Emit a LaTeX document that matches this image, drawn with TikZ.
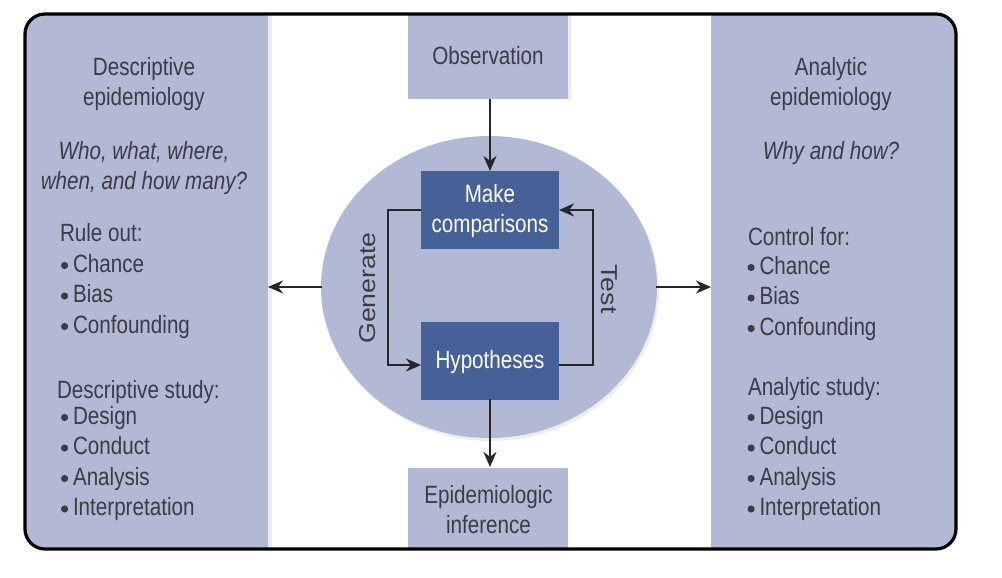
\documentclass[tikz,border=0pt]{standalone}
\usepackage{fontspec}
\setmainfont{Liberation Sans}[FakeStretch=0.825]
\newfontfamily\widefam{Liberation Sans}[FakeStretch=1.16]
\usetikzlibrary{arrows.meta,shapes.geometric}
\definecolor{pale}{HTML}{B1B9D5}
\definecolor{deep}{HTML}{466098}
\definecolor{ink}{HTML}{3C3C42}
\definecolor{softgrey}{HTML}{EDEDF0}
\tikzset{
  every node/.style={inner sep=0pt,outer sep=0pt},
  panel/.style={fill=pale,draw=none,minimum width=#1,rectangle},
  dark/.style={fill=deep,text=white,minimum width=138pt,minimum height=78pt,font=\fontsize{25}{30}\selectfont,align=center},
  txt/.style={text=ink,font=\fontsize{25}{30.5}\selectfont,align=left,anchor=north west},
  ctr/.style={text=ink,font=\fontsize{25}{30}\selectfont,align=center},
  side/.style={text=ink,font=\fontsize{23}{30}\widefam},
  conn/.style={draw=black!85,line width=2.2pt,-{Stealth[length=15pt,width=13pt]}},
}
\newcommand{\bul}{\makebox[12pt][l]{\raisebox{3pt}{\tikz\fill[ink] (0,0) circle (3.6pt);}}}
\begin{document}
\begin{tikzpicture}[x=1pt,y=-1pt]
\useasboundingbox (0,0) rectangle (1002,578);
\begin{scope}
\clip[rounded corners=20pt] (25,14) rectangle (956,549);
\fill[softgrey] (268,14) rectangle (272,549);
\fill[softgrey] (568,14) rectangle (571,101);
\node[panel=242pt,minimum height=535pt,anchor=north west] (left) at (26,14) {};
\node[panel=245pt,minimum height=535pt,anchor=north west] (right) at (711,14) {};
\node[panel=160pt,minimum height=85pt,anchor=north west] (obs) at (408,14) {};
\node[panel=160pt,minimum height=81pt,anchor=north west] (inf) at (408,468) {};
\end{scope}
\fill[softgrey] (491,290) ellipse [x radius=168pt,y radius=151pt];
\node[ellipse,fill=pale,minimum width=336pt,minimum height=302pt] (circ) at (489,287) {};
\node[ctr] (obst) at (488,56) {Observation};
\node[ctr] (inft) at (488.5,510) {Epidemiologic\\inference};
\node[dark] (make) at (490,210) {};
\node[dark] (hyp) at (490,360.5) {};
\node[dark,fill=none,minimum width=0pt,minimum height=0pt] (maket) at (490,211.5) {Make\\comparisons};
\node[dark,fill=none,minimum width=0pt,minimum height=0pt] (hypt) at (490,362) {Hypotheses};
\coordinate (mkw) at (421,210);
\coordinate (mke) at (559,210);
\coordinate (hyw) at (421,365);
\coordinate (hye) at (559,365);
\coordinate (gl) at (388,210);
\coordinate (gb) at (388,365);
\coordinate (tb) at (593,365);
\coordinate (tt) at (593,210);
\coordinate (cl) at (322,287);
\coordinate (cr) at (656,287);
\coordinate (ll) at (268,287);
\coordinate (rr) at (711,287);
\coordinate (ot) at (490,99);
\coordinate (mt) at (490,171);
\coordinate (hb) at (490,399);
\coordinate (it) at (490,467);
\draw[conn] (ot) -- (mt);
\draw[conn] (hb) -- (it);
\draw[conn] (cl) -- (ll);
\draw[conn] (cr) -- (rr);
\draw[conn] (mkw) -- (gl) -- (gb) -- (hyw);
\draw[conn] (hye) -- (tb) -- (tt) -- (mke);
\node[side,rotate=90] (gen) at (368,288) {Generate};
\node[side,rotate=-90] (test) at (609,289) {Test};
% left panel
\node[ctr] (d1) at (144,84) {Descriptive\\epidemiology};
\node[ctr,font=\fontsize{25}{30}\selectfont\itshape] (d2) at (144,168) {Who, what, where,\\when, and how many?};
\node[txt] (d3h) at (60,223) {Rule out:};
\node[txt] (d3) at (61,254) {\bul Chance\\\bul Bias\\\bul Confounding};
\node[txt] (d4h) at (57,380) {Descriptive study:};
\node[txt] (d4) at (61,406) {\bul Design\\\bul Conduct\\\bul Analysis\\\bul Interpretation};
% right panel
\node[ctr] (a1) at (831,84) {Analytic\\epidemiology};
\node[ctr,font=\fontsize{25}{30}\selectfont\itshape] (a2) at (831,153) {Why and how?};
\node[txt] (a3h) at (748,227) {Control for:};
\node[txt] (a3) at (747.5,256) {\bul Chance\\\bul Bias\\\bul Confounding};
\node[txt] (a4h) at (748,377) {Analytic study:};
\node[txt] (a4) at (747.5,406) {\bul Design\\\bul Conduct\\\bul Analysis\\\bul Interpretation};
\draw[line width=3.2pt,black,rounded corners=20pt] (25,14) rectangle (956,549);
\end{tikzpicture}
\end{document}
